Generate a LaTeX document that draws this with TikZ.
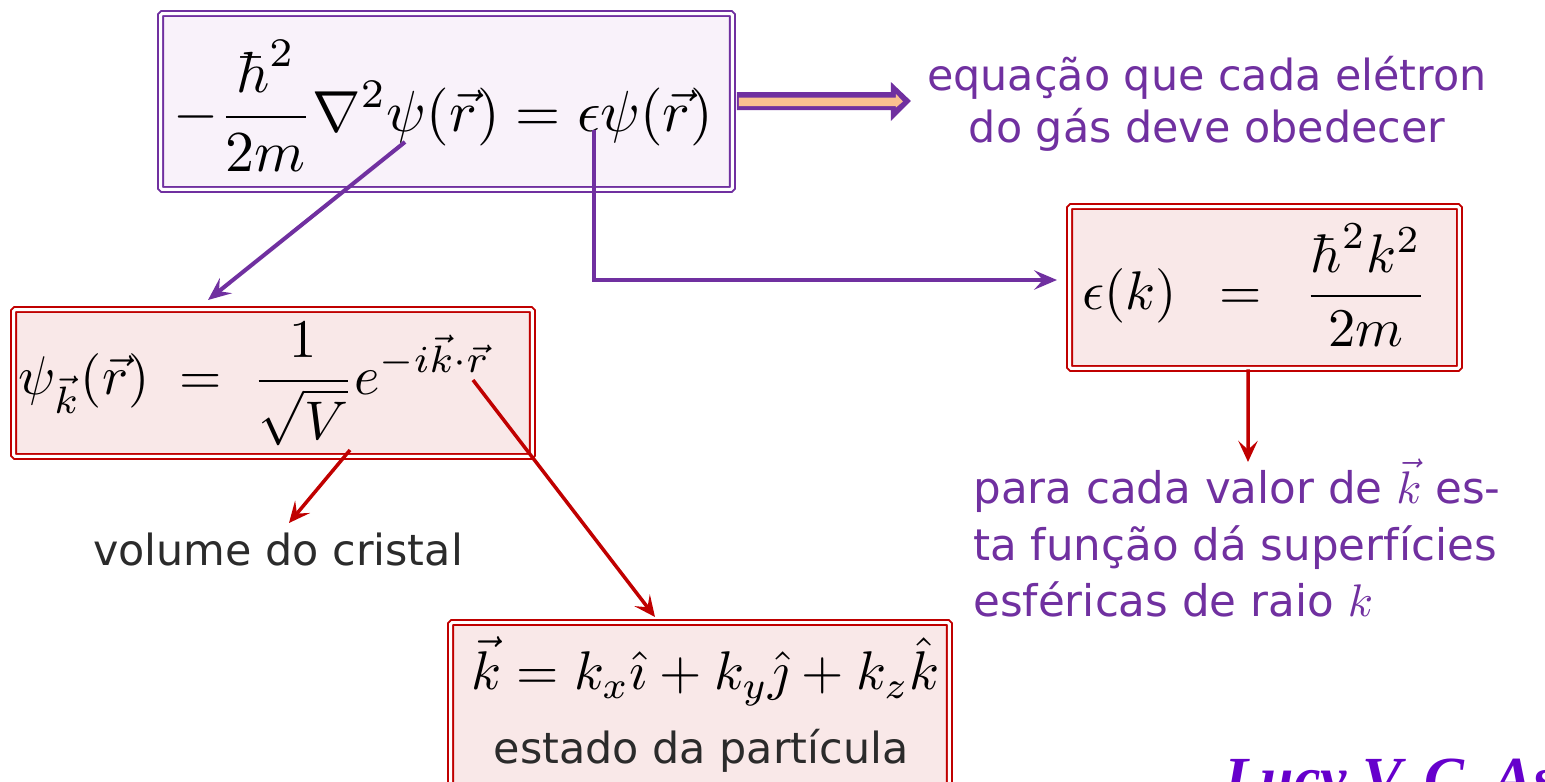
\documentclass[tikz,border=0pt]{standalone}
\usepackage{amsmath}
\usepackage{graphicx}
\usepackage{fontspec}
\newfontfamily\comic{DejaVu Sans}
\newfontfamily\sigfont{Liberation Serif}
\usetikzlibrary{arrows.meta,calc}
\definecolor{purp}{HTML}{7030A0}
\definecolor{dred}{HTML}{C00000}
\definecolor{lav}{HTML}{F9F2FA}
\definecolor{pinkf}{HTML}{F9E8E8}
\definecolor{orng}{HTML}{FAC090}
\definecolor{sigc}{HTML}{6600CC}
\definecolor{dgray}{HTML}{2B2B2B}
\newcommand{\BigMath}[2][3.1]{\scalebox{#1}{$\displaystyle #2$}}
\newcommand{\TxtMath}[1]{\scalebox{2.6}{\normalsize$#1$}}
\tikzset{
  pbox/.style={draw=purp, line width=1.13pt, double=white, double distance=1.7pt, fill=lav, rounded corners=1pt, inner sep=0pt},
  rbox/.style={draw=dred, line width=1.13pt, double=white, double distance=1.7pt, fill=pinkf, rounded corners=1pt, inner sep=0pt},
  mathtxt/.style={inner sep=0pt},
  sanstxt/.style={inner sep=0pt, font=\comic\fontsize{24.4}{29.5}\selectfont},
  parrow/.style={draw=purp, line width=2.3pt, -{Stealth[length=13pt,width=11pt,inset=5pt]}},
  rarrow/.style={draw=dred, line width=2pt, -{Stealth[length=12pt,width=11pt,inset=5pt]}},
}
\begin{document}
\begin{tikzpicture}[x=0.02cm,y=-0.02cm]
\useasboundingbox (0,0) rectangle (1545,781);
% boxes
\node[pbox, minimum width=11.44cm, minimum height=3.52cm] (top) at (446.5,101.5) {};
\node[rbox, minimum width=10.38cm, minimum height=2.94cm] (psibox) at (273,383) {};
\node[rbox, minimum width=7.8cm, minimum height=3.24cm] (epsbox) at (1264.5,287.5) {};
\node[rbox, minimum width=9.98cm, minimum height=3.6cm, anchor=north] (kbox) at (700,621.5) {};
% formulas
\node[mathtxt] (topf) at (443.5,106) {\BigMath[3.3]{-\frac{\hbar^2}{2m}\nabla^2\psi(\vec r)=\epsilon\psi(\vec r)}};
\node[mathtxt] (psif) at (254.5,384) {\BigMath{\psi_{\vec k}(\vec r)\;=\;\frac{1}{\sqrt{V}}e^{-i\vec k\cdot\vec r}}};
\node[mathtxt] (epsf) at (1255,285) {\BigMath{\epsilon(k)\enspace=\enspace\frac{\hbar^2k^2}{2m}}};
\node[mathtxt] (kf) at (705.5,671) {\BigMath{\vec k=k_x\hat\imath+k_y\hat\jmath+k_z\hat k}};
\node[sanstxt, text=dgray, anchor=base] (kstate) at (701,763) {estado da partícula};
% texts
\node[sanstxt, text=purp, align=center] (eq) at (1207,104) {equação que cada elétron\\do gás deve obedecer};
\node[sanstxt, text=purp, align=left, anchor=west, font=\comic\fontsize{24.8}{32.3}\selectfont] (para) at (973,538) {para cada valor de \TxtMath{\vec k} es-\\ta função dá superfícies\\esféricas de raio \TxtMath{k}};
\node[sanstxt, text=dgray] (vol) at (278,550) {volume do cristal};
\node[anchor=base west, inner sep=0pt, text=sigc, font=\sigfont\bfseries\itshape\fontsize{34}{40}\selectfont] (sig) at (1224,798) {Lucy V. C. Assali};
% connector free ends
\coordinate (c1) at (405,142);
\coordinate (c2) at (594,130);
\coordinate (c3) at (473,380);
\coordinate (c4) at (350,450);
\coordinate (t1) at (208,300);
\coordinate (t2) at (1057,280);
\coordinate (t3) at (655,617);
\coordinate (t4) at (289,523);
\coordinate (t5) at (1248,462);
\coordinate (s) at ([xshift=0.07cm]top.east);
% thick block arrow from the top box towards the explanation
\fill[purp, shift={(s)}] (0,-9.5) -- (154,-9.5) -- (154,-19.5) -- (174,-0.5) -- (154,19.5) -- (154,8.5) -- (0,8.5) -- cycle;
\fill[orng, shift={(s)}] (2,-4) -- (159,-4) -- (159,-7.5) -- (166,0) -- (159,6) -- (159,4.5) -- (2,4.5) -- cycle;
% connectors
\draw[parrow] (c1) -- (t1);
\draw[parrow] (c2) |- (t2);
\draw[rarrow] (c3) -- (t3);
\draw[rarrow] (c4) -- (t4);
\draw[rarrow] ([xshift=-0.33cm]epsbox.south) -- (t5);
\end{tikzpicture}
\end{document}
